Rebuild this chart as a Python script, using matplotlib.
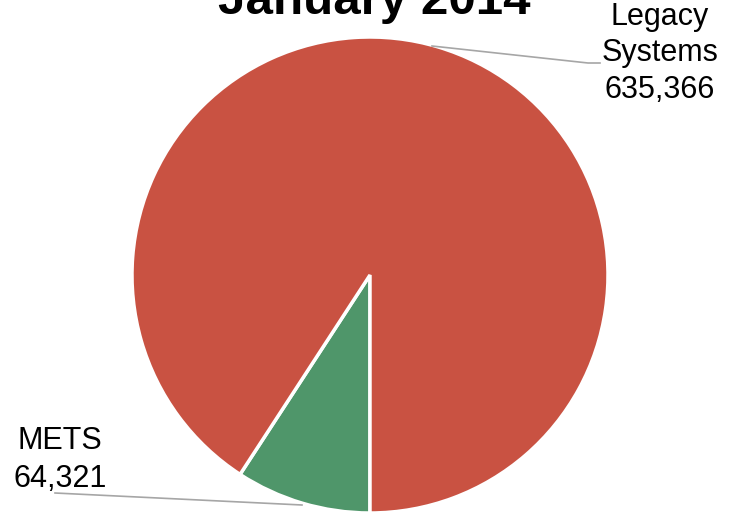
"""Pie chart: January 2014 enrollment, METS vs legacy systems."""

import matplotlib

matplotlib.use("Agg")
import matplotlib.pyplot as plt

plt.rcParams["font.family"] = ["Liberation Sans", "DejaVu Sans"]

labels = ["METS", "Legacy\nSystems"]
values = [64321, 635366]
colors = ["#4F966A", "#C95242"]

W, H, DPI = 738, 513, 100
CX, CY, R = 370, 275, 238  # pie centre / radius in pixels


def to_data(px, py):
    return (px - CX) / R, (CY - py) / R


fig = plt.figure(figsize=(W / DPI, H / DPI), dpi=DPI)
ax = fig.add_axes([0, 0, 1, 1])

ax.pie(
    values,
    colors=colors,
    startangle=-90,
    counterclock=False,
    radius=1.0,
    wedgeprops={"edgecolor": "white", "linewidth": 2.5},
)
# pie() resets the limits, so pin them afterwards to the pixel frame
ax.set_aspect("auto")
ax.set_xlim(-CX / R, (W - CX) / R)
ax.set_ylim(-(H - CY) / R, CY / R)
ax.axis("off")

# data labels with leader lines
leader = "#A6A6A6"
lx, ly = zip(*[to_data(432, 46), to_data(588, 63), to_data(600, 63)])
ax.plot(lx, ly, color=leader, lw=1.2)
mx, my = zip(*[to_data(55, 493), to_data(302, 505)])
ax.plot(mx, my, color=leader, lw=1.2)

# va="baseline" pins the last line's baseline
x, y = to_data(660, 98)
ax.text(x, y, f"{labels[1]}\n{values[1]:,}", ha="center", va="baseline",
        fontsize=22, linespacing=1.29)
x, y = to_data(60, 487)
ax.text(x, y, f"{labels[0]}\n{values[0]:,}", ha="center", va="baseline",
        fontsize=22, linespacing=1.36)

# title sits mostly above the top edge, as in the source image
x, y = to_data(374, 14)
ax.text(x, y, "January 2014", ha="center", va="baseline",
        fontsize=35.5, fontweight="bold")

fig.savefig("out.png", dpi=DPI)
